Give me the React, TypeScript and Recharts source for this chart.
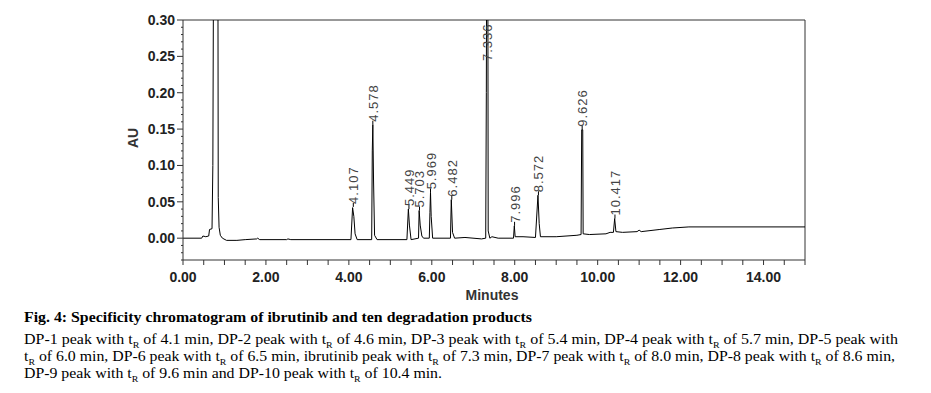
import { ComposedChart, Line, Scatter, XAxis, YAxis, ReferenceLine, Label } from 'recharts';

// chromatogram trace (min, AU)
const retentionTimes = [
    0, 0.45, 0.48, 0.55, 0.62, 0.64, 0.7, 0.72, 0.74, 0.84, 0.85, 0.87, 0.9, 0.95, 1.05, 1.3, 1.5, 1.78, 1.8, 1.85,
    2.5, 2.53, 2.6, 4.05, 4.09, 4.12, 4.15, 4.2, 4.55, 4.565, 4.578, 4.595, 4.62, 4.68, 5.4, 5.435, 5.46, 5.5,
    5.68, 5.695, 5.72, 5.76, 5.8, 5.94, 5.955, 5.969, 5.985, 6.02, 6.45, 6.47, 6.5, 6.55, 6.8, 7.2, 7.3, 7.315,
    7.325, 7.35, 7.36, 7.4, 7.45, 7.6, 7.97, 7.99, 8.01, 8.2, 8.5, 8.56, 8.59, 8.62, 9.0, 9.5, 9.6, 9.615, 9.64,
    9.65, 9.8, 10.2, 10.3, 10.38, 10.41, 10.44, 10.6, 10.95, 11.0, 11.05, 11.5, 11.8, 12.2, 15.0,
];
const absorbance = [
    0, 0, 0.003, 0.002, 0.003, 0.012, 0.013, 0.1, 0.45, 0.45, 0.056, 0.015, 0.004, 0, -0.003, -0.003, -0.002, -0.001, 0, -0.002,
    -0.002, -0.001, -0.002, -0.002, 0.042, 0.03, 0.006, -0.002, -0.002, 0.12, 0.156, 0.08, 0.004, -0.002, -0.002, 0.04, 0.018, -0.002,
    0, 0.038, 0.018, 0.003, 0, 0, 0.035, 0.063, 0.03, 0, 0, 0.053, 0.008, 0, 0.001, -0.001, 0, 0.2,
    0.45, 0.45, 0.01, 0, 0.002, 0, 0, 0.017, 0.002, 0.002, 0.001, 0.059, 0.02, 0.002, 0.002, 0.004, 0.005, 0.149, 0.149,
    0.006, 0.005, 0.006, 0.008, 0.008, 0.027, 0.009, 0.008, 0.009, 0.011, 0.009, 0.012, 0.014, 0.0155, 0.0155,
];

// labelled peaks
const peakTimes = [4.107, 4.578, 5.449, 5.703, 5.969, 6.482, 7.336, 7.996, 8.572, 9.626, 10.417];
const peakApex = [0.043, 0.156, 0.04, 0.038, 0.063, 0.053, 0.45, 0.017, 0.059, 0.149, 0.027];
const peakLabels = ['4.107', '4.578', '5.449', '5.703', '5.969', '6.482', '7.336', '7.996', '8.572', '9.626', '10.417'];

const xTicks = [0, 0.5, 1, 1.5, 2, 2.5, 3, 3.5, 4, 4.5, 5, 5.5, 6, 6.5, 7, 7.5, 8, 8.5, 9, 9.5, 10, 10.5, 11, 11.5, 12, 12.5, 13, 13.5, 14, 14.5, 15];
const yTicks = [
    -0.03, -0.02, -0.01, 0, 0.01, 0.02, 0.03, 0.04, 0.05, 0.06, 0.07, 0.08, 0.09, 0.1, 0.11, 0.12, 0.13, 0.14, 0.15,
    0.16, 0.17, 0.18, 0.19, 0.2, 0.21, 0.22, 0.23, 0.24, 0.25, 0.26, 0.27, 0.28, 0.29, 0.3,
];

const captionTitle = 'Fig. 4: Specificity chromatogram of ibrutinib and ten degradation products';
const captionLines = [
    'DP-1 peak with t_R of 4.1 min, DP-2 peak with t_R of 4.6 min, DP-3 peak with t_R of 5.4 min, DP-4 peak with t_R of 5.7 min, DP-5 peak with',
    't_R of 6.0 min, DP-6 peak with t_R of 6.5 min, ibrutinib peak with t_R of 7.3 min, DP-7 peak with t_R of 8.0 min, DP-8 peak with t_R of 8.6 min,',
    'DP-9 peak with t_R of 9.6 min and DP-10 peak with t_R of 10.4 min.',
];
const captionWidths = [874, 871, 418];

const traceData = retentionTimes.map((t, i) => ({ t, au: absorbance[i] }));
const peakData = peakTimes.map((t, i) => ({ t, au: peakApex[i], label: peakLabels[i] }));

const PLOT_TOP = 12;
const AXIS_FONT = 'Liberation Sans, Arial, sans-serif';

const YTick = (props: any) => {
    const { x, y, payload } = props;
    const hundredths = Math.round(payload.value * 100);
    const major = hundredths % 5 === 0;
    return (
        <g>
            <line x1={x} x2={x - (major ? 6 : 2)} y1={y} y2={y} stroke="#333" />
            {major && (
                <text x={x - 8} y={y + 5} textAnchor="end" fontSize={14} fontWeight="bold" fill="#222" fontFamily={AXIS_FONT}>
                    {payload.value.toFixed(2)}
                </text>
            )}
        </g>
    );
};

const XTick = (props: any) => {
    const { x, y, payload } = props;
    const major = payload.value % 2 === 0 && payload.value < 15;
    return (
        <g>
            <line x1={x} x2={x} y1={y} y2={y + 5} stroke="#333" />
            {major && (
                <text x={x} y={y + 22} textAnchor="middle" fontSize={14} fontWeight="bold" fill="#222" fontFamily={AXIS_FONT}>
                    {payload.value.toFixed(2)}
                </text>
            )}
        </g>
    );
};

const PeakLabel = (props: any) => {
    const { cx, cy, payload } = props;
    const clipped = cy < PLOT_TOP;
    const base = clipped ? PLOT_TOP + 41 : cy - 3;
    return (
        <g>
            {!clipped && <line x1={cx} x2={cx} y1={cy} y2={cy - 4} stroke="#000" />}
            <text
                transform={`translate(${cx + 5}, ${base}) rotate(-90)`}
                fontSize={13}
                letterSpacing={1}
                fill="#444"
                fontFamily={AXIS_FONT}
            >
                {payload.label}
            </text>
        </g>
    );
};

const CaptionLine = ({ text, y, width }: { text: string; y: number; width: number }) => {
    const parts = text.split('t_R');
    return (
        <text x={16} y={y} fontSize={14.5} fontFamily="Liberation Serif, Times New Roman, serif" fill="#000"
            textLength={width} lengthAdjust="spacingAndGlyphs">
            {parts.map((p, i) => (
                <tspan key={i}>
                    {i > 0 && <tspan>t</tspan>}
                    {i > 0 && <tspan dy={4} fontSize={9}>R</tspan>}
                    <tspan dy={i > 0 ? -4 : 0}>{p}</tspan>
                </tspan>
            ))}
        </text>
    );
};

const App = () => {
    return (
        <div style={{ position: 'relative', width: 915, height: 385 }}>
            <ComposedChart width={915} height={300} margin={{ top: PLOT_TOP, right: 118, left: 115, bottom: 18 }}>
                <XAxis
                    dataKey="t"
                    type="number"
                    domain={[0, 15]}
                    ticks={xTicks}
                    interval={0}
                    allowDataOverflow
                    height={30}
                    stroke="#333"
                    tickLine={false}
                    tickSize={0}
                    tickMargin={0}
                    tick={<XTick />}
                >
                    <Label
                        content={({ viewBox }: any) => (
                            <text x={viewBox.x + viewBox.width / 2 - 2} y={viewBox.y + 40} textAnchor="middle"
                                fontSize={14} fontWeight="bold" fill="#333" fontFamily={AXIS_FONT}>
                                Minutes
                            </text>
                        )}
                    />
                </XAxis>
                <YAxis
                    type="number"
                    domain={[-0.03, 0.3]}
                    ticks={yTicks}
                    interval={0}
                    allowDataOverflow
                    width={60}
                    stroke="#333"
                    tickLine={false}
                    tickSize={0}
                    tickMargin={0}
                    tick={<YTick />}
                >
                    <Label
                        content={({ viewBox }: any) => (
                            <text transform={`translate(${viewBox.x + 15}, ${viewBox.y + 118}) rotate(-90)`} textAnchor="middle"
                                fontSize={14} fontWeight="bold" fill="#333" fontFamily={AXIS_FONT}>
                                AU
                            </text>
                        )}
                    />
                </YAxis>
                <ReferenceLine y={0.3} stroke="#333" />
                <ReferenceLine x={15} stroke="#333" />
                <Line
                    data={traceData}
                    dataKey="au"
                    type="linear"
                    stroke="#000"
                    strokeWidth={1}
                    dot={false}
                    isAnimationActive={false}
                />
                <Scatter data={peakData} dataKey="au" shape={<PeakLabel />} isAnimationActive={false} />
            </ComposedChart>
            <svg width={931} height={85} style={{ position: 'absolute', left: 0, top: 300 }}>
                <text x={16} y={13.5} fontSize={15} fontWeight="bold" fontFamily="Liberation Serif, Times New Roman, serif"
                    fill="#000" textLength={508} lengthAdjust="spacingAndGlyphs">
                    {captionTitle}
                </text>
                {captionLines.map((line, i) => (
                    <CaptionLine key={i} text={line} y={36.3 + i * 17} width={captionWidths[i]} />
                ))}
            </svg>
        </div>
    );
};

export default App;
